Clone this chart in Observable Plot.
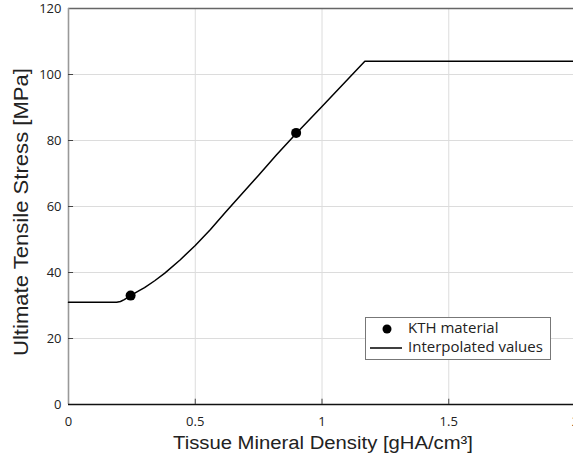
<!DOCTYPE html>
<html>
<head>
<meta charset="utf-8">
<script src="https://cdn.jsdelivr.net/npm/d3@7"></script>
<script src="https://cdn.jsdelivr.net/npm/@observablehq/plot@0.6"></script>
<style>
  html, body { margin: 0; padding: 0; background: white; overflow: hidden; }
  #chart svg { overflow: visible; }
</style>
</head>
<body>
<div id="chart"></div>
<script>
// Interpolated curve (Tissue Mineral Density vs Ultimate Tensile Stress)
const curveX = [0, 0.19, 0.205, 0.22, 0.245, 0.27, 0.30, 0.34, 0.38, 0.44, 0.50, 0.56, 0.62, 0.68, 0.75, 0.82, 0.90, 1.00, 1.169, 2.0];
const curveY = [31, 31, 31.2, 31.8, 33, 34.1, 35.4, 37.5, 39.8, 43.8, 48.2, 53.0, 58.3, 63.5, 69.5, 75.6, 82.3, 90.3, 104, 104];
// KTH material points
const kthX = [0.245, 0.898];
const kthY = [33, 82.3];
// Axis ticks
const xTicks = [0, 0.5, 1, 1.5, 2];
const xTickLabels = ["0", "0.5", "1", "1.5", "2"];
const yTicks = [0, 20, 40, 60, 80, 100, 120];
const yTickLabels = ["0", "20", "40", "60", "80", "100", "120"];
const xTitle = "Tissue Mineral Density [gHA/cm³]";
const yTitle = "Ultimate Tensile Stress [MPa]";
const legendLabels = ["KTH material", "Interpolated values"];

const curve = curveX.map((x, i) => ({x, y: curveY[i]}));
const kth = kthX.map((x, i) => ({x, y: kthY[i]}));

const W = 573, H = 464;
const tickFont = "'Open Sans', 'Noto Sans', sans-serif";

const plot = Plot.plot({
  width: W,
  height: H,
  marginLeft: 68,
  marginRight: -2,
  marginTop: 8,
  marginBottom: 60,
  style: {background: "white", fontFamily: tickFont, fontSize: "13px", color: "#222"},
  x: {domain: [0, 2]},
  y: {domain: [0, 120]},
  marks: [
    Plot.gridX(xTicks.filter(d => d > 0 && d < 2), {stroke: "#dcdcdc", strokeOpacity: 1, strokeWidth: 1}),
    Plot.gridY(yTicks.filter(d => d > 0 && d < 120), {stroke: "#dcdcdc", strokeOpacity: 1, strokeWidth: 1}),
    Plot.ruleY([120], {stroke: "#666", strokeWidth: 1.3}),
    Plot.ruleX([0], {stroke: "#999", strokeWidth: 1.6}),
    Plot.ruleY([0], {stroke: "#111", strokeWidth: 1.5}),
    // inward ticks
    Plot.ruleX(xTicks.filter(d => d > 0), {y1: 0, y2: 1.6, stroke: "#444", strokeWidth: 1}),
    Plot.ruleY(yTicks.filter(d => d > 0 && d < 120), {x1: 0, x2: 0.02, stroke: "#444", strokeWidth: 1}),
    Plot.axisX(xTicks, {tickSize: 0, tickPadding: 12, tickFormat: d => xTickLabels[xTicks.indexOf(d)], label: null, fontSize: 13, fill: "#222"}),
    Plot.axisY(yTicks, {tickSize: 0, tickPadding: 7, tickFormat: d => yTickLabels[yTicks.indexOf(d)], label: null, fontSize: 13, fill: "#222"}),
    Plot.line(curve, {x: "x", y: "y", stroke: "#000", strokeWidth: 1.5}),
    Plot.dot(kth, {x: "x", y: "y", r: 5, fill: "#000", stroke: "none"})
  ]
});

const svg = d3.select(plot);
// axis titles
svg.append("text")
  .attr("x", 323).attr("y", 444)
  .attr("text-anchor", "middle").attr("dominant-baseline", "middle")
  .attr("font-family", "'Liberation Sans', Arial, sans-serif")
  .attr("font-size", 18).attr("fill", "#222")
  .attr("textLength", 300).attr("lengthAdjust", "spacingAndGlyphs")
  .text(xTitle);
svg.append("text")
  .attr("transform", "translate(22,212) rotate(-90)")
  .attr("text-anchor", "middle").attr("dominant-baseline", "middle")
  .attr("font-family", "'Liberation Sans', Arial, sans-serif")
  .attr("font-size", 21).attr("fill", "#222")
  .attr("textLength", 288).attr("lengthAdjust", "spacingAndGlyphs")
  .text(yTitle);

// legend
const lg = svg.append("g").attr("text-anchor", "start");
lg.append("rect").attr("x", 365.5).attr("y", 317.5).attr("width", 185).attr("height", 42)
  .attr("fill", "white").attr("stroke", "#777").attr("stroke-width", 1);
lg.append("circle").attr("cx", 387).attr("cy", 329).attr("r", 4.5).attr("fill", "#000");
lg.append("line").attr("x1", 370).attr("x2", 402).attr("y1", 348).attr("y2", 348)
  .attr("stroke", "#000").attr("stroke-width", 1.5);
legendLabels.forEach((t, i) => {
  lg.append("text").attr("x", 408).attr("y", 329 + i * 19)
    .attr("text-anchor", "start")
    .attr("dominant-baseline", "middle")
    .attr("font-family", tickFont).attr("font-size", 15).attr("fill", "#222")
    .text(t);
});

document.getElementById("chart").appendChild(plot);
</script>
</body>
</html>
